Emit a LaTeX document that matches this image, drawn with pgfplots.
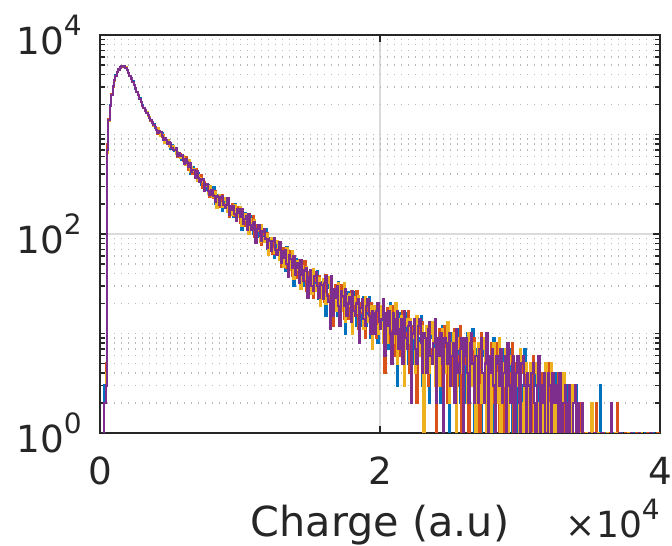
\documentclass[border=0pt]{standalone}
\usepackage{pgfplots}
\usepackage{pgfplotstable}
\pgfplotsset{compat=1.18}
\usepackage{fontspec}
\setmainfont{DejaVu Sans}
\definecolor{tc}{RGB}{38,38,38}
\definecolor{c1}{rgb}{0,0.447,0.741}
\definecolor{c2}{rgb}{0.850,0.325,0.098}
\definecolor{c3}{rgb}{0.929,0.694,0.125}
\definecolor{c4}{rgb}{0.494,0.184,0.556}
\newcommand\spx[1]{\raisebox{0.5em}{\fontsize{21}{21}\selectfont #1}}
\pgfplotstableread{
k b o y p
0 0 0 0 0
1 0 0 0 0
2 0 0 0 0
3 3 2 2 2
4 3 5 4 3
5 720 800 650 700
6 1390 1420 1370 1400
7 1960 1940 1930 1950
8 2480 2520 2510 2500
9 3060 3030 3080 3050
10 3490 3520 3480 3500
11 3920 3880 3900 3910
12 4230 4270 4260 4250
13 4520 4490 4480 4500
14 4690 4720 4700 4710
15 4860 4830 4870 4850
16 4890 4920 4880 4900
17 4860 4840 4850 4830
18 4690 4720 4710 4700
19 4460 4440 4430 4450
20 4140 4170 4160 4150
21 3910 3880 3890 3900
22 3640 3670 3660 3650
23 3410 3390 3380 3400
24 3140 3170 3160 3150
25 2900 2930 2920 2910
26 2690 2670 2700 2685
27 2470 2500 2490 2480
28 2300 2280 2270 2290
29 2100 2130 2120 2110
30 1960 1940 1930 1950
31 1830 1860 1850 1845
32 1760 1730 1740 1745
33 1640 1660 1670 1650
34 1570 1550 1540 1560
35 1460 1490 1480 1475
36 1400 1380 1410 1395
37 1310 1330 1340 1320
38 1260 1240 1230 1250
39 1170 1190 1200 1180
40 1130 1110 1100 1120
41 1063 1002 1153 1032
42 1003 1077 1028 1073
43 1009 1021 973 1069
44 1045 949 987 964
45 873 982 970 884
46 922 864 824 914
47 861 868 875 878
48 873 859 876 796
49 783 761 787 832
50 720 829 742 823
51 777 741 774 738
52 736 701 770 698
53 686 714 697 703
54 711 703 641 730
55 627 598 663 611
56 631 636 639 646
57 626 638 580 604
58 556 575 608 615
59 608 544 603 553
60 543 568 541 510
61 499 588 496 562
62 527 505 513 523
63 524 445 559 473
64 402 484 418 514
65 459 463 472 421
66 473 399 430 436
67 401 442 451 440
68 372 445 383 364
69 409 376 338 433
70 414 349 395 364
71 355 360 367 337
72 312 391 331 355
73 339 293 360 353
74 324 330 295 270
75 279 301 305 309
76 309 316 307 318
77 311 267 253 269
78 262 236 302 249
79 244 276 255 275
80 253 258 237 279
81 294 233 257 243
82 201 270 263 208
83 247 210 184 242
84 222 227 232 234
85 245 236 248 194
86 201 186 203 233
87 172 246 187 242
88 223 199 221 197
89 208 184 232 182
90 185 205 193 197
91 216 210 166 229
92 167 147 193 156
93 182 186 187 193
94 190 199 157 174
95 150 164 188 193
96 199 151 196 158
97 161 179 159 136
98 149 188 147 177
99 166 156 160 164
100 171 129 186 147
101 110 159 120 177
102 150 152 157 127
103 164 120 138 142
104 127 152 158 151
105 115 160 122 110
106 145 124 100 160
107 153 112 142 122
108 122 126 130 111
109 100 151 112 128
110 123 93 137 132
111 117 122 98 82
112 93 107 110 113
113 117 121 116 123
114 123 94 84 95
115 95 77 122 86
116 85 107 92 106
117 94 98 83 112
118 113 84 96 89
119 70 103 99 73
120 92 74 62 89
121 80 82 84 85
122 91 87 92 68
123 70 63 71 85
124 57 92 64 90
125 82 70 81 69
126 74 63 85 62
127 64 72 67 69
128 77 75 55 83
129 56 47 67 51
130 62 64 64 67
131 68 73 47 58
132 43 52 66 69
133 74 46 72 50
134 52 63 51 37
135 45 68 44 62
136 57 51 53 56
137 59 38 68 46
138 30 53 35 60
139 49 50 52 39
140 56 36 44 46
141 40 51 54 51
142 34 55 38 32
143 48 39 28 55
144 53 34 48 39
145 39 41 43 34
146 30 53 35 43
147 41 27 47 45
148 39 41 30 23
149 28 35 36 37
150 40 42 39 43
151 43 30 25 30
152 31 23 44 27
153 28 38 31 38
154 33 34 27 41
155 42 28 34 30
156 22 38 36 23
157 33 25 19 32
158 28 29 30 31
159 34 32 35 22
160 24 21 25 32
161 15 39 20 38
162 33 25 32 24
163 29 21 37 21
164 23 29 25 11
165 34 32 17 38
166 19 12 28 15
167 24 26 26 28
168 28 31 17 23
169 15 20 28 30
170 33 17 32 19
171 21 27 20 12
172 18 31 17 27
173 25 21 22 24
174 27 14 32 19
175 10 23 13 28
176 22 22 24 15
177 26 14 19 20
178 17 24 25 23
179 14 27 16 13
180 23 17 10 27
181 26 15 23 17
182 18 19 20 15
183 12 27 16 20
184 20 11 24 22
185 19 20 13 8
186 12 16 17 18
187 20 22 20 22
188 23 14 11 14
189 15 9 23 12
190 12 20 15 19
191 16 17 13 22
192 23 14 17 15
193 9 20 19 10
194 17 11 7 17
195 14 15 16 16
196 19 17 19 10
197 12 9 12 17
198 8 20 10 20
199 17 13 17 13
200 15 11 19 11
201 11 16 13 14
202 19 18 8 22
203 9 4 15 6
204 13 14 14 16
205 16 18 8 12
206 7 10 16 17
207 20 8 19 10
208 11 16 11 5
209 9 19 8 16
210 14 12 12 14
211 16 6 20 10
212 3 13 5 17
213 12 12 14 7
214 16 6 10 11
215 9 14 15 14
216 6 17 8 5
217 14 9 3 17
218 16 7 14 9
219 10 10 12 7
220 5 17 8 12
221 11 4 14 13
222 11 12 6 2
223 5 9 9 10
224 12 13 12 14
225 14 6 4 7
226 7 2 15 5
227 6 12 8 12
228 9 10 6 14
229 15 7 10 8
230 3 13 12 4
231 10 5 1 10
232 7 8 9 9
233 12 10 12 4
234 5 3 6 11
235 2 13 4 13
236 11 7 10 6
237 9 5 13 5
238 6 9 7 8
239 11 11 3 14
240 4 1 8 2
241 7 8 8 9
242 9 11 3 6
243 2 5 9 10
244 12 3 11 5
245 6 9 5 1
246 4 12 4 9
247 8 6 7 8
248 10 2 13 5
249 0 8 2 10
250 7 7 8 3
251 10 3 6 6
252 4 9 10 8
253 3 11 4 2
254 8 5 1 11
255 11 3 9 5
256 6 6 7 4
257 2 12 4 7
258 7 1 9 9
259 7 7 3 0
260 2 5 6 6
261 8 9 7 9
262 10 4 2 4
263 4 0 10 2
264 3 8 5 8
265 6 6 3 10
266 11 4 7 5
267 1 9 8 2
268 7 2 0 6
269 5 5 6 6
270 8 7 8 2
271 3 1 3 7
272 0 10 2 9
273 7 4 7 4
274 6 3 9 2
275 4 6 5 5
276 8 7 1 10
277 2 0 6 1
278 5 5 5 6
279 6 8 1 4
280 1 3 6 7
281 9 2 8 3
282 4 6 3 0
283 2 8 2 6
284 5 4 4 5
285 7 1 9 3
286 0 5 0 7
287 4 5 5 2
288 7 1 3 4
289 2 6 7 6
290 1 7 2 1
291 6 3 0 8
292 7 2 6 3
293 3 4 5 2
294 1 8 2 5
295 4 0 6 6
296 4 5 1 0
297 1 3 3 4
298 5 6 5 6
299 6 2 0 2
300 2 0 7 1
301 1 5 2 5
302 3 4 1 6
303 7 2 4 3
304 0 5 5 0
305 4 1 0 4
306 2 3 3 3
307 5 4 5 0
308 1 0 1 4
309 0 6 0 5
310 4 2 4 2
311 3 1 5 1
312 1 3 2 3
313 5 4 0 6
314 0 0 3 0
315 2 3 3 3
316 3 4 0 2
317 0 1 4 4
318 5 0 5 1
319 2 3 1 0
320 1 5 0 4
321 3 2 2 3
322 4 0 5 1
323 0 3 0 4
324 2 2 3 2
325 4 0 1 2
326 1 3 3 3
327 0 4 1 0
328 3 1 0 4
329 4 0 3 1
330 1 2 2 0
331 0 4 4 2
332 2 0 3 3
333 3 2 0 0
334 0 1 1 2
335 2 3 2 3
336 3 0 0 0
337 1 0 3 0
338 0 2 1 2
339 1 2 0 3
340 3 0 2 1
341 1 0 0 2
342 0 2 0 0
343 0 0 1 0
344 2 0 0 2
345 0 0 0 0
346 0 1 0 0
347 0 0 1 0
348 1 0 0 0
349 0 0 0 1
350 0 1 0 0
351 0 0 2 0
352 1 0 0 0
353 0 0 0 1
354 0 2 0 0
355 0 0 0 0
356 0 0 1 0
357 3 0 0 0
358 0 0 0 1
359 0 1 0 0
360 0 0 0 0
361 1 0 0 0
362 0 0 1 0
363 0 0 0 0
364 0 1 0 0
365 0 0 0 2
366 1 0 0 0
367 0 0 0 0
368 0 0 1 0
369 0 2 0 0
370 0 0 0 0
371 0 0 0 1
372 1 0 0 0
373 0 0 0 0
374 0 0 0 0
375 0 1 0 0
376 0 0 0 0
377 0 0 1 0
378 0 0 0 0
379 0 0 0 1
380 0 0 0 0
381 1 0 0 0
382 0 0 0 0
383 0 1 0 0
384 0 0 0 0
385 0 0 0 1
386 0 0 1 0
387 0 0 0 0
388 0 0 0 0
389 1 0 0 0
390 0 0 0 0
391 0 1 0 0
392 0 0 0 0
393 0 0 0 1
394 0 0 0 0
395 1 0 0 0
396 0 0 0 0
397 0 0 0 0
398 0 1 0 0
399 0 0 0 0
}\data
\begin{document}
\begin{tikzpicture}
\path[use as bounding box] (-75pt,-84.75pt) rectangle (429pt,324.75pt);
\begin{axis}[
  scale only axis,
  width=420pt, height=298.5pt,
  at={(0,0)}, anchor=south west,
  xmin=0, xmax=40000,
  ymode=log, ymin=1, ymax=10000,
  scaled x ticks=false,
  xtick={0,20000,40000},
  xticklabels={0,2,4},
  ytick={1,100,10000},
  yticklabels={10\spx{0},10\spx{2},10\spx{4}},
  minor ytick={2,3,4,5,6,7,8,9,10,20,30,40,50,60,70,80,90,200,300,400,500,600,700,800,900,1000,2000,3000,4000,5000,6000,7000,8000,9000},
  tick align=inside,
  major tick length=5pt,
  minor tick length=3.5pt,
  every tick/.style={tc, line width=1pt},
  axis line style={tc, line width=1.4pt},
  xmajorgrids=true, ymajorgrids=true, yminorgrids=true,
  major grid style={color=black!14, line width=1pt},
  minor grid style={color=black!28, line width=1pt, dash pattern=on 1.1pt off 4.15pt},
  tick label style={font=\fontsize{28}{30}\selectfont, text=tc},
  xticklabel style={anchor=north, inner sep=0pt, yshift=-18pt},
  yticklabel style={anchor=east, inner sep=0pt, xshift=-13.5pt},
]
\addplot[const plot, c1, line width=1.6pt] table[x expr=\thisrow{k}*100, y expr={max(\thisrow{b},0.1)}] {\data};
\addplot[const plot, c2, line width=1.6pt] table[x expr=\thisrow{k}*100, y expr={max(\thisrow{o},0.1)}] {\data};
\addplot[const plot, c3, line width=1.6pt] table[x expr=\thisrow{k}*100, y expr={max(\thisrow{y},0.1)}] {\data};
\addplot[const plot, c4, line width=1.6pt] table[x expr=\thisrow{k}*100, y expr={max(\thisrow{p},0.1)}] {\data};
\end{axis}
\node[anchor=base, text=tc, font=\fontsize{31}{33}\selectfont, inner sep=0pt] at (210pt,-78pt) {Charge (a.u)};
\node[anchor=base east, text=tc, font=\fontsize{27}{29}\selectfont, inner sep=0pt] at (420pt,-78.5pt) {×10\spx{4}};
\end{tikzpicture}
\end{document}
